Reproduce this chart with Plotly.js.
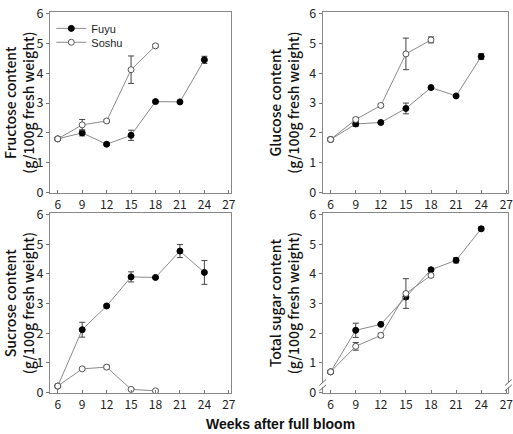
<!DOCTYPE html>
<html>
<head>
<meta charset="utf-8">
<script src="https://cdn.plot.ly/plotly-3.0.1.min.js"></script>
<style>html,body{margin:0;padding:0;background:#fff;}#chart{width:513px;height:434px;}</style>
</head>
<body>
<div id="chart"></div>
<script>
// Weeks after full bloom
const weeksFuyu = [6, 9, 12, 15, 18, 21, 24];
const weeksSoshu = [6, 9, 12, 15, 18];

// Fructose (g/100g fresh weight)
const fructoseFuyu = [1.8, 2.0, 1.62, 1.92, 3.05, 3.04, 4.45];
const fructoseFuyuErr = [0.05, 0.1, 0.04, 0.17, 0.04, 0.04, 0.12];
const fructoseSoshu = [1.8, 2.27, 2.4, 4.12, 4.92];
const fructoseSoshuErr = [0.05, 0.18, 0.05, 0.46, 0.05];

// Glucose
const glucoseFuyu = [1.78, 2.3, 2.35, 2.82, 3.52, 3.24, 4.56];
const glucoseFuyuErr = [0.05, 0.08, 0.04, 0.18, 0.04, 0.04, 0.1];
const glucoseSoshu = [1.78, 2.45, 2.92, 4.65, 5.12];
const glucoseSoshuErr = [0.05, 0.06, 0.05, 0.53, 0.1];

// Sucrose
const sucroseFuyu = [0.22, 2.12, 2.92, 3.9, 3.88, 4.77, 4.05];
const sucroseFuyuErr = [0.03, 0.25, 0.05, 0.17, 0.04, 0.22, 0.4];
const sucroseSoshu = [0.22, 0.8, 0.86, 0.11, 0.06];
const sucroseSoshuErr = [0.03, 0.04, 0.06, 0.03, 0.02];

// Total sugar
const totalFuyu = [0.7, 2.1, 2.3, 3.22, 4.14, 4.46, 5.52];
const totalFuyuErr = [0.05, 0.24, 0.04, 0.06, 0.05, 0.09, 0.06];
const totalSoshu = [0.7, 1.56, 1.93, 3.34, 3.95];
const totalSoshuErr = [0.05, 0.13, 0.07, 0.5, 0.06];

const yTitles = [
  'Fructose content<br>(g/100g fresh weight)',
  'Glucose content<br>(g/100g fresh weight)',
  'Sucrose content<br>(g/100g fresh weight)',
  'Total sugar content<br>(g/100g fresh weight)'
];
const xTicks = [6, 9, 12, 15, 18, 21, 24, 27];
const yTicks = [0, 1, 2, 3, 4, 5, 6];
const seriesNames = ['Fuyu', 'Soshu'];

const panels = [
  [fructoseFuyu, fructoseFuyuErr, fructoseSoshu, fructoseSoshuErr],
  [glucoseFuyu, glucoseFuyuErr, glucoseSoshu, glucoseSoshuErr],
  [sucroseFuyu, sucroseFuyuErr, sucroseSoshu, sucroseSoshuErr],
  [totalFuyu, totalFuyuErr, totalSoshu, totalSoshuErr]
];

const FONT = 'Noto Sans CJK KR, Noto Sans, sans-serif';
const lineColor = '#8a8a8a';
const barColor = '#444';

const traces = [];
panels.forEach((p, i) => {
  const sx = i === 0 ? 'x' : 'x' + (i + 1);
  const sy = i === 0 ? 'y' : 'y' + (i + 1);
  traces.push({
    x: weeksFuyu, y: p[0], xaxis: sx, yaxis: sy, type: 'scatter', mode: 'lines+markers',
    name: seriesNames[0], showlegend: i === 0, legend: 'legend',
    line: {color: lineColor, width: 1},
    marker: {symbol: 'circle', size: 6, color: '#000', line: {color: '#000', width: 1}},
    error_y: {type: 'data', array: p[1], visible: true, color: barColor, thickness: 1, width: 3}
  });
  traces.push({
    x: weeksSoshu, y: p[2], xaxis: sx, yaxis: sy, type: 'scatter', mode: 'lines+markers',
    name: seriesNames[1], showlegend: i === 0, legend: 'legend2',
    line: {color: lineColor, width: 1},
    marker: {symbol: 'circle', size: 6, color: '#fff', line: {color: '#555', width: 1}},
    error_y: {type: 'data', array: p[3], visible: true, color: barColor, thickness: 1, width: 3}
  });
});

function xAxis(domain, anchor) {
  return {
    domain: domain, anchor: anchor, range: [5.05, 27.25],
    tickmode: 'array', tickvals: xTicks, ticktext: xTicks.map(String),
    ticks: 'inside', ticklen: 3, tickcolor: '#777',
    showline: true, linecolor: '#888', linewidth: 1, mirror: true,
    showgrid: false, zeroline: false, ticklabeloverflow: 'allow',
    tickfont: {family: FONT, size: 12, color: '#222'}
  };
}
function yAxis(domain, anchor, title) {
  return {
    domain: domain, anchor: anchor, range: [-0.02, 6.05],
    tickmode: 'array', tickvals: yTicks, ticktext: yTicks.map(String),
    ticks: 'outside', ticklen: 3, tickcolor: '#777',
    showline: true, linecolor: '#888', linewidth: 1, mirror: true,
    showgrid: false, zeroline: false,
    tickfont: {family: FONT, size: 12.5, color: '#222'},
    title: {text: title, standoff: 6, font: {family: FONT, size: 14, color: '#111', weight: 500}}
  };
}

const topDom = [0.555, 0.972];
const botDom = [0.094, 0.509];
const leftDom = [0.0975, 0.450];
const rightDom = [0.629, 0.991];

// axis break marks on the total sugar panel
const breakShapes = [];
[0, 1].forEach(side => {
  breakShapes.push({type: 'rect', xref: 'x4 domain', yref: 'y4', x0: side - 0.012, x1: side + 0.012,
    y0: 0.18, y1: 0.36, fillcolor: '#fff', line: {width: 0}, layer: 'above'});
  [0.16, 0.34].forEach(c => {
    breakShapes.push({type: 'line', xref: 'x4 domain', yref: 'y4', x0: side - 0.018, x1: side + 0.018,
      y0: c - 0.1, y1: c + 0.1, line: {color: '#666', width: 1}, layer: 'above'});
  });
});

const legendBase = {x: 0.1, xanchor: 'left', yanchor: 'top', bgcolor: 'rgba(0,0,0,0)',
  font: {family: 'Liberation Sans, Arial, sans-serif', size: 11, color: '#222'},
  tracegroupgap: 0, itemwidth: 30};

const layout = {
  width: 513, height: 434,
  margin: {l: 0, r: 0, t: 0, b: 0},
  paper_bgcolor: '#fff', plot_bgcolor: '#fff',
  font: {family: FONT, color: '#222'},
  showlegend: true,
  legend: Object.assign({}, legendBase, {y: 0.968}),
  legend2: Object.assign({}, legendBase, {y: 0.936}),
  xaxis: xAxis(leftDom, 'y'),
  yaxis: yAxis(topDom, 'x', yTitles[0]),
  xaxis2: xAxis(rightDom, 'y2'),
  yaxis2: yAxis(topDom, 'x2', yTitles[1]),
  xaxis3: xAxis(leftDom, 'y3'),
  yaxis3: yAxis(botDom, 'x3', yTitles[2]),
  xaxis4: xAxis(rightDom, 'y4'),
  yaxis4: yAxis(botDom, 'x4', yTitles[3]),
  shapes: breakShapes,
  annotations: [{
    text: '<b>Weeks after full bloom</b>', xref: 'paper', yref: 'paper',
    x: 0.546, y: 0, xanchor: 'center', yanchor: 'bottom', showarrow: false,
    font: {family: 'Liberation Sans, Arial, sans-serif', size: 14, color: '#111'}
  }]
};

Plotly.newPlot('chart', traces, layout, {displayModeBar: false, staticPlot: true});
</script>
</body>
</html>
